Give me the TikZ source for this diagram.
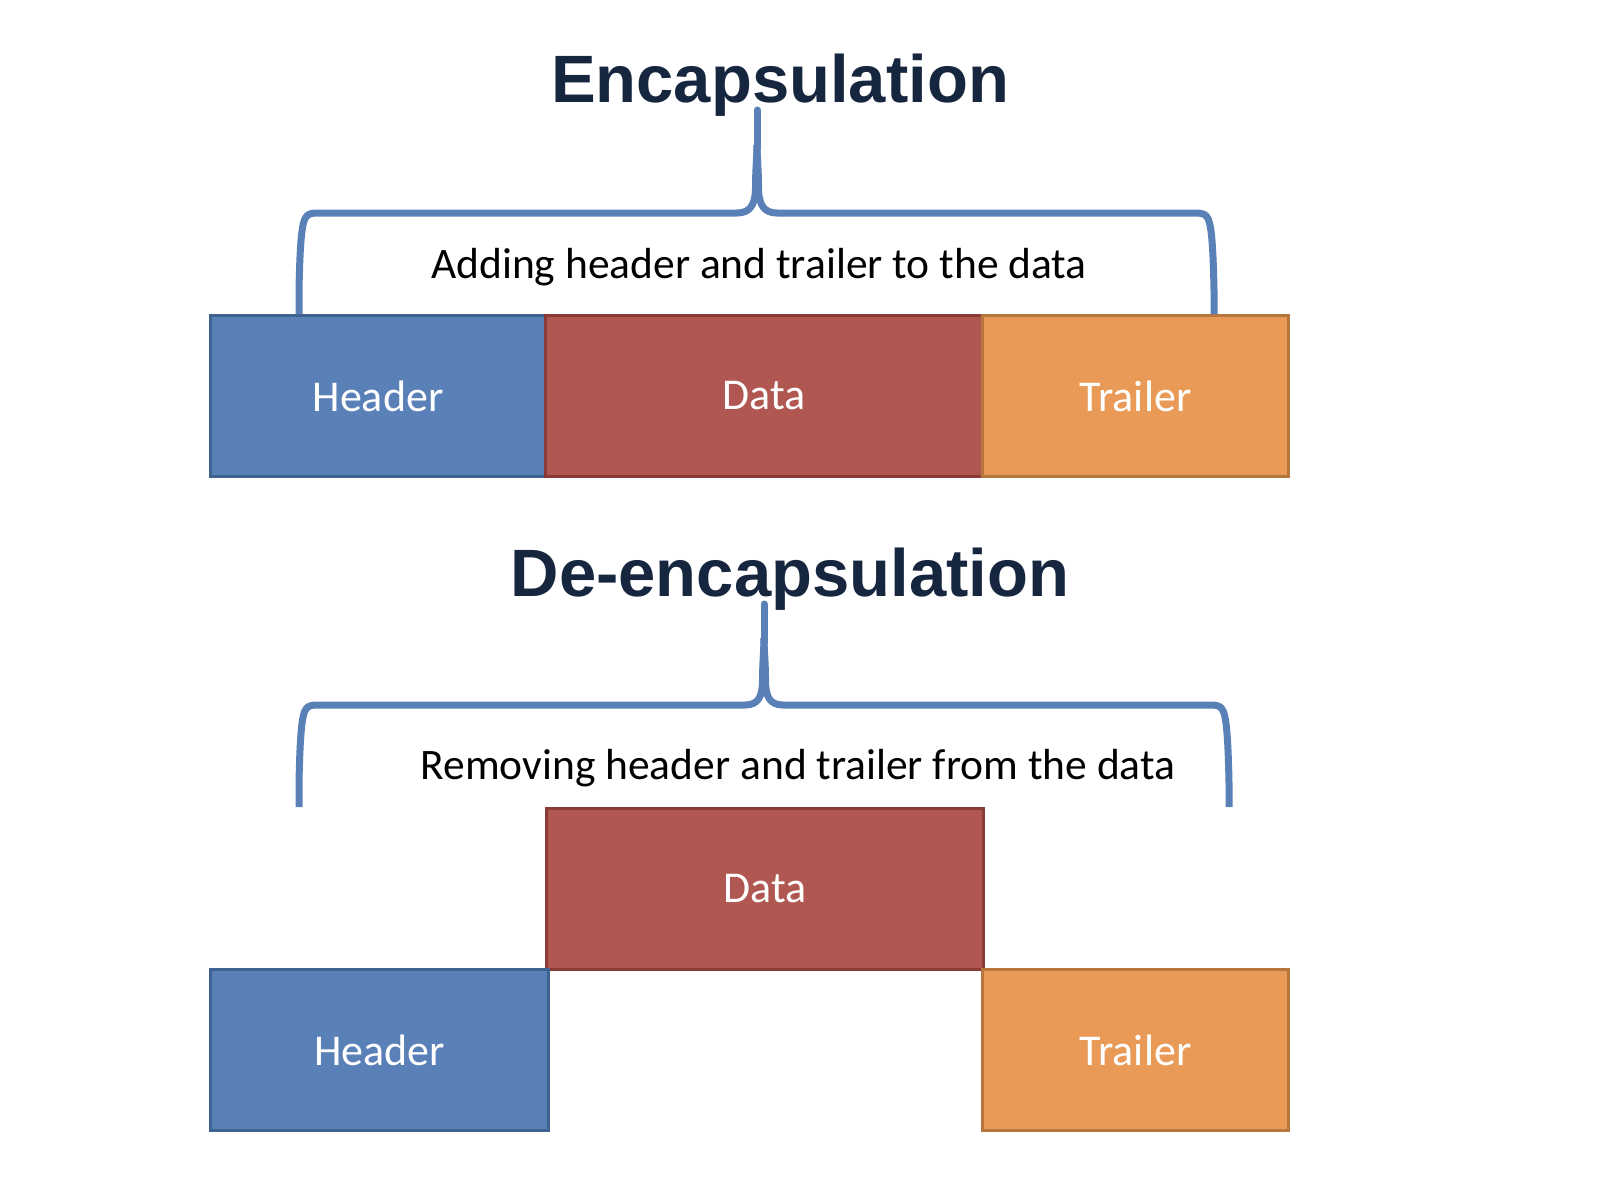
\documentclass[tikz,border=0pt]{standalone}
\usepackage{fontspec}
\setmainfont{Carlito}
\newfontfamily\titlefont{Liberation Sans}
\definecolor{hdrfill}{HTML}{5A80B8}
\definecolor{hdrline}{HTML}{3F6391}
\definecolor{datfill}{HTML}{B05752}
\definecolor{datline}{HTML}{8A3A37}
\definecolor{trlfill}{HTML}{E99A57}
\definecolor{trlline}{HTML}{B7763D}
\definecolor{bracecol}{HTML}{5A80B8}
\definecolor{titlecol}{HTML}{17263F}
\begin{document}
\begin{tikzpicture}[x=1pt,y=-1pt,
  box/.style={draw,line width=3pt,rectangle,anchor=north west,inner sep=0pt,
    text=white,font=\fontsize{44}{50}\selectfont},
  hdr/.style={box,fill=hdrfill,draw=hdrline},
  dat/.style={box,fill=datfill,draw=datline},
  trl/.style={box,fill=trlfill,draw=trlline},
  ttl/.style={anchor=base,text=titlecol,font=\titlefont\bfseries\fontsize{67}{75}\selectfont,inner sep=0pt},
  captext/.style={anchor=base,text=black,font=\fontsize{43.5}{50}\selectfont,inner sep=0pt},
  brace/.style={draw=bracecol,line width=7pt,line cap=butt,line join=round},
  bracetip/.style={brace,line cap=round}]
\useasboundingbox[fill=white] (0,0) rectangle (1602,1176);

% ---------- Encapsulation ----------
\node[ttl] (t1) at (780,102) {Encapsulation};
\node[hdr,minimum width=335pt,minimum height=161pt] (h1) at (209,314) {Header};
\node[dat,minimum width=437pt,minimum height=161pt] (d1) at (544,314) {Data};
\node[trl,minimum width=306pt,minimum height=161pt] (r1) at (981,314) {Trailer};
\node[captext] (c1) at (759,278) {Adding header and trailer to the data};

\coordinate (p1) at (757,110);
\coordinate (l1) at (299,314);
\coordinate (q1) at (1214,314);
\draw[brace] (l1) -- (299,290) .. controls (300,240) and (302,222) .. (306,217)
  .. controls (308,214) and (311,213) .. (318,213) -- (737,213)
  .. controls (750,213) and (755.5,205) .. (755.5,187) .. controls (755.5,170) and (757,155) .. (757,145);
\draw[brace] (q1) -- (1214,290) .. controls (1213,240) and (1211,222) .. (1207,217)
  .. controls (1205,214) and (1202,213) .. (1195,213) -- (777,213)
  .. controls (764,213) and (758.5,205) .. (758.5,187) .. controls (758.5,170) and (757,155) .. (757,145);
\draw[bracetip] (757,149) -- (p1);

% ---------- De-encapsulation ----------
\node[ttl] (t2) at (790,596) {De-encapsulation};
\node[dat,minimum width=437pt,minimum height=161pt] (d2) at (545,807) {Data};
\node[hdr,minimum width=338pt,minimum height=161pt] (h2) at (209,968) {Header};
\node[trl,minimum width=306pt,minimum height=161pt] (r2) at (981,968) {Trailer};
\node[captext] (c2) at (798,779) {Removing header and trailer from the data};

\coordinate (p2) at (764,604);
\coordinate (l2) at (299,807);
\coordinate (q2) at (1229,807);
\draw[brace] (l2) -- (299,783) .. controls (300,733) and (302,714) .. (306,709)
  .. controls (308,706) and (311,705) .. (318,705) -- (745,705)
  .. controls (758,705) and (762.5,697) .. (762.5,680) .. controls (762.5,663) and (764,648) .. (764,638);
\draw[brace] (q2) -- (1229,783) .. controls (1228,733) and (1226,714) .. (1222,709)
  .. controls (1220,706) and (1217,705) .. (1210,705) -- (783,705)
  .. controls (770,705) and (765.5,697) .. (765.5,680) .. controls (765.5,663) and (764,648) .. (764,638);
\draw[bracetip] (764,642) -- (p2);
\end{tikzpicture}
\end{document}
